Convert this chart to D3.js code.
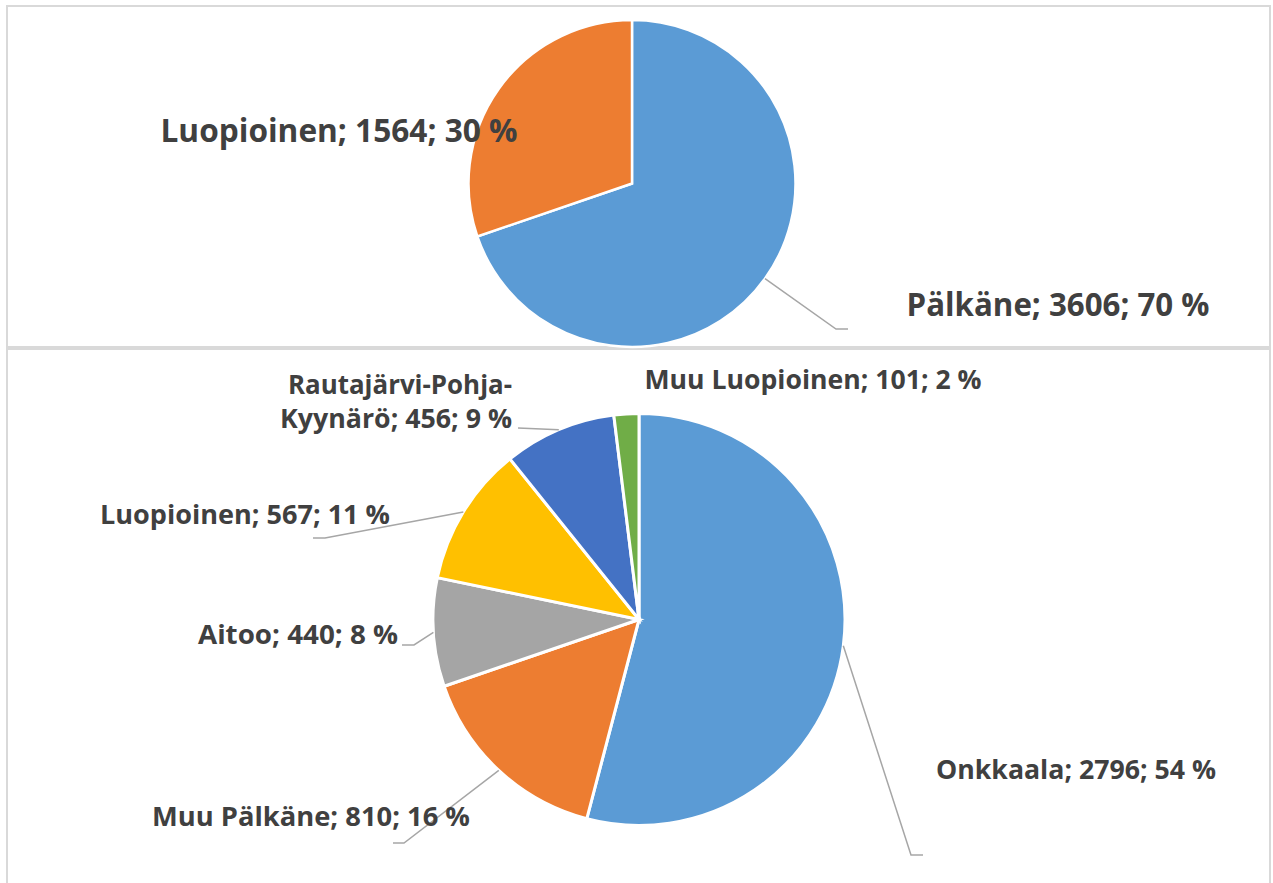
<!DOCTYPE html>
<html>
  <head>
    <meta charset="utf-8">
    <title>Väestö</title>
    <script src="https://d3js.org/d3.v7.min.js"></script>
    <style type="text/css">
body {
  margin: 0;
  background: #fff;
}
text.lbl {
  font-family: "Open Sans", sans-serif;
  font-weight: bold;
  fill: #404040;
}
path.leader {
  fill: none;
  stroke: #a6a6a6;
  stroke-width: 1.5px;
}
rect.panel {
  fill: none;
  stroke: #d9d9d9;
  stroke-width: 2px;
}
    </style>
  </head>
  <body>
    <script type="text/javascript">

// top pie: municipalities
var topNames = ["Pälkäne", "Luopioinen"];
var topValues = [3606, 1564];
var topPct = ["70 %", "30 %"];

// bottom pie: areas
var botNames = ["Onkkaala", "Muu Pälkäne", "Aitoo", "Luopioinen", "Rautajärvi-Pohja-Kyynärö", "Muu Luopioinen"];
var botValues = [2796, 810, 440, 567, 456, 101];
var botPct = ["54 %", "16 %", "8 %", "11 %", "9 %", "2 %"];

var topColors = ["#5b9bd5", "#ed7d31"];
var botColors = ["#5b9bd5", "#ed7d31", "#a5a5a5", "#ffc000", "#4472c4", "#70ad47"];

var width = 1273, height = 883;

// label layout: centre x, baseline y, text width per line, leader elbow + end
var topLayout = [
  {x: [1058], y: 316, size: 33, w: [303], lines: null, elbow: [836, 329], end: [848, 329]},
  {x: [339], y: 142, size: 33, w: [357], lines: null, elbow: null}
];
var botLayout = [
  {x: [1076], y: 779, size: 27, w: [280], lines: null, elbow: [911, 855], end: [923, 855]},
  {x: [311], y: 826, size: 27, w: [318], lines: null, elbow: [404, 843], end: [393, 843]},
  {x: [298], y: 644, size: 27, w: [200], lines: null, elbow: [414, 645], end: [402, 645]},
  {x: [245], y: 524, size: 27, w: [290], lines: null, elbow: [325, 538], end: [313, 538]},
  {x: [400, 396], y: 394, size: 27, w: [224, 232], lines: ["Rautajärvi-Pohja-", "Kyynärö; 456; 9 %"], elbow: [518, 428], end: [518, 428]},
  {x: [813], y: 389, size: 27, w: [337], lines: null, elbow: null}
];

var svg = d3.select("body").append("svg")
    .attr("width", width)
    .attr("height", height);

svg.append("rect").attr("class", "panel")
    .attr("x", 7).attr("y", 6).attr("width", 1263).attr("height", 341);
svg.append("rect").attr("class", "panel")
    .attr("x", 7).attr("y", 349).attr("width", 1263).attr("height", 560);

function drawPie(names, values, pcts, colors, layout, cx, cy, r, sw) {
  var g = svg.append("g").attr("transform", "translate(" + cx + "," + cy + ")");
  var pie = d3.pie().sort(null).value(function(d) { return d; });
  var arcs = pie(values);
  var arc = d3.arc().innerRadius(0).outerRadius(r);

  g.selectAll("path.slice")
    .data(arcs)
    .enter().append("path")
      .attr("class", "slice")
      .attr("d", arc)
      .style("fill", function(d, i) { return colors[i]; })
      .style("stroke", "#fff")
      .style("stroke-width", sw)
      .style("stroke-linejoin", "miter");

  arcs.forEach(function(a, i) {
    var L = layout[i];
    var mid = (a.startAngle + a.endAngle) / 2;
    var px = cx + r * Math.sin(mid), py = cy - r * Math.cos(mid);
    if (L.elbow) {
      svg.append("path").attr("class", "leader")
        .attr("d", d3.line()([[px, py], L.elbow, L.end]));
    }
    var lines = L.lines || [names[i] + "; " + values[i] + "; " + pcts[i]];
    var t = svg.append("text").attr("class", "lbl")
      .attr("text-anchor", "middle")
      .style("font-size", L.size + "px");
    lines.forEach(function(s, k) {
      t.append("tspan")
        .attr("x", L.x[k])
        .attr("y", L.y + k * 34)
        .attr("textLength", L.w[k])
        .attr("lengthAdjust", "spacingAndGlyphs")
        .text(s);
    });
  });
}

drawPie(topNames, topValues, topPct, topColors, topLayout, 632, 183.5, 163.5, 2.5);
drawPie(botNames, botValues, botPct, botColors, botLayout, 639, 619.5, 206, 3);

    </script>
  </body>
</html>
